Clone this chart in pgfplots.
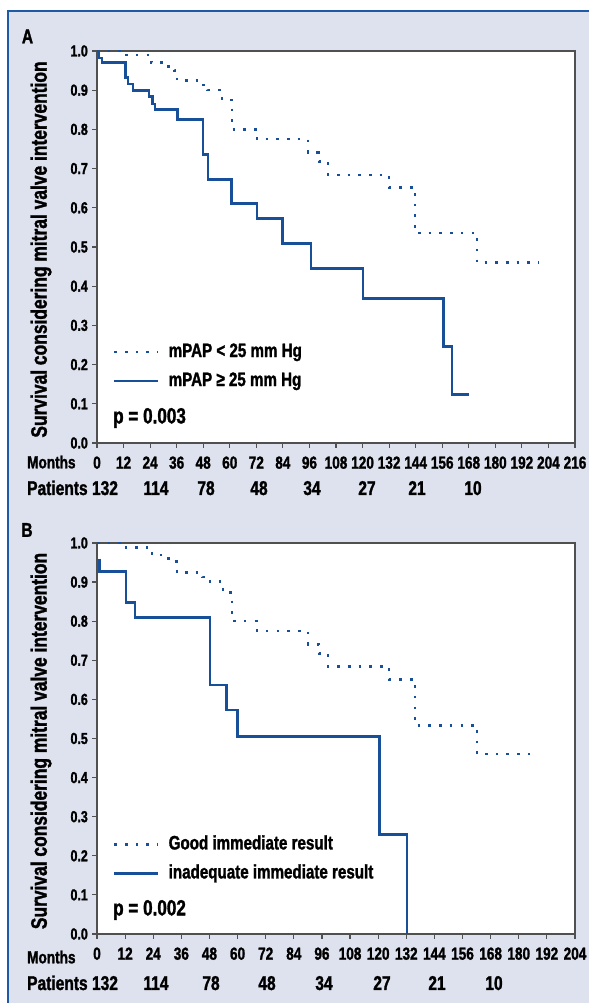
\documentclass[border=0pt]{standalone}
\usepackage{fontspec}
\setmainfont{Liberation Sans Bold}[FakeStretch=0.78, FakeBold=1.4]
\usepackage{pgfplots}
\pgfplotsset{compat=1.18}
\definecolor{bg}{RGB}{222,226,238}
\definecolor{frameblue}{RGB}{30,90,165}
\definecolor{curve}{RGB}{24,79,153}
\definecolor{axisgray}{RGB}{80,80,80}
\newcommand{\fs}[1]{\fontsize{#1}{#1}\selectfont}
\pgfplotsset{
  kmaxis/.style={
    scale only axis, width=478bp, clip=false,
    axis background/.style={fill=white},
    axis line style={axisgray, line width=1.3bp},
    tick style={axisgray, line width=1.2bp},
    tick align=outside, xtick pos=left, ytick pos=left,
    major tick length=5bp,
    ymin=0, ymax=1,
    ytick={0,0.1,0.2,0.3,0.4,0.5,0.6,0.7,0.8,0.9,1.0},
    /pgf/number format/assume math mode=true,
    yticklabel style={/pgf/number format/.cd, fixed, fixed zerofill, precision=1, assume math mode=true,
      /tikz/.cd, font=\fs{16}, anchor=east, inner sep=0pt, xshift=-4bp},
    xticklabel style={font=\fs{17.5}, anchor=north, inner sep=0pt, text height=12.5bp, text depth=0pt, yshift=-8bp},
    legend cell align=left,
    legend style={draw=none, fill=none, anchor=west, inner sep=0pt, outer sep=0pt,
      row sep=11bp, column sep=9bp, font=\fs{19.5},
      nodes={inner sep=0pt, text height=14bp, text depth=4bp}},
    legend image code/.code={\draw[##1, line width=2.7bp] (0bp,0bp) -- (44bp,0bp);},
  },
  dotcurve/.style={curve, line width=2.6bp, dash pattern=on 2.6bp off 8.1bp, const plot},
  solidcurve/.style={curve, line width=2.8bp, const plot},
}
\begin{document}
\begin{tikzpicture}[x=1bp,y=1bp]
\useasboundingbox (0,0) rectangle (589,1003);
\fill[white] (0,0) rectangle (589,1003);
\fill[bg] (8,0) rectangle (589,992);
\draw[frameblue, line width=1.5bp] (8,0) -- (8,992) -- (589,992);

% ---------- Panel A ----------
\begin{axis}[kmaxis, at={(97bp,560bp)}, anchor=south west, height=392bp,
  xmin=0, xmax=216, xtick={0,12,...,216},
  legend style={at={(axis description cs:0.0335,0.195)}}]
\addplot[dotcurve] coordinates {
(0,1.0) (12,0.99) (24.5,0.97) (31,0.96) (35,0.95) (36.2,0.924) (46.5,0.913)
(50,0.90) (56.5,0.879) (59,0.875) (61,0.80) (72.3,0.775) (95.3,0.741)
(100.3,0.718) (104.4,0.684) (132,0.652) (143.7,0.536) (171.7,0.46) (199.3,0.46)};
\addlegendentry{mPAP < 25 mm Hg}
\addplot[solidcurve] coordinates {
(0,1.0) (0.9,0.982) (2.3,0.970) (12.7,0.933) (14,0.916) (16.3,0.90) (23.5,0.883)
(24.9,0.865) (26.2,0.85) (36.2,0.826) (47.9,0.736) (50.2,0.673) (60.6,0.611)
(72.3,0.573) (84,0.509) (96.7,0.446) (120.2,0.369) (156.4,0.246) (160.4,0.124) (168.1,0.124)};
\addlegendentry{mPAP ≥ 25 mm Hg}
\end{axis}

% ---------- Panel B ----------
\begin{axis}[kmaxis, at={(97bp,69bp)}, anchor=south west, height=391bp,
  xmin=0, xmax=204, xtick={0,12,...,204},
  legend style={at={(axis description cs:0.0335,0.192)}}]
\addplot[dotcurve] coordinates {
(0,1.0) (12.3,0.988) (23.5,0.969) (30,0.961) (33,0.952) (34.1,0.924) (45,0.913)
(48.2,0.901) (53.8,0.880) (56,0.873) (57.6,0.801) (68.3,0.775) (90,0.741)
(94.8,0.717) (98.6,0.684) (124.6,0.651) (135.7,0.534) (162.2,0.46) (188.2,0.46)};
\addlegendentry{Good immediate result}
\addplot[solidcurve] coordinates {
(1,0.96) (1,0.928) (12.4,0.848) (16.2,0.81) (48.2,0.637) (55.4,0.573)
(59.9,0.506) (120.4,0.255) (132.3,0.0) (132.3,0.0)};
\addlegendentry{inadequate immediate result}
\end{axis}

% ---------- texts ----------
\node[font=\fs{20}, inner sep=0pt] at (27.5,966.5) {A};
\node[font=\fs{20}, inner sep=0pt] at (27,473) {B};
\node[font=\fs{22.4}, rotate=90, inner sep=0pt] at (41,753.5) {Survival considering mitral valve intervention};
\node[font=\fs{22.4}, rotate=90, inner sep=0pt] at (41,262) {Survival considering mitral valve intervention};
\node[font=\fs{22}, anchor=west, inner sep=0pt] at (113,585) {p = 0.003};
\node[font=\fs{22}, anchor=west, inner sep=0pt] at (113,93) {p = 0.002};

\node[font=\fs{17.5}, anchor=base west, inner sep=0pt] at (27,534.7) {Months};
\node[font=\fs{20}, anchor=base west, inner sep=0pt] at (27,508) {Patients};
\foreach \x/\n in {105/132,156/114,206/78,259/48,312/34,367/27,417/21,473/10}
  \node[font=\fs{20}, anchor=base, inner sep=0pt] at (\x,508) {\n};

\node[font=\fs{17.5}, anchor=base west, inner sep=0pt] at (27,39.7) {Months};
\node[font=\fs{20}, anchor=base west, inner sep=0pt] at (27,13) {Patients};
\foreach \x/\n in {105/132,156/114,211/78,267/48,324/34,382/27,437/21,494/10}
  \node[font=\fs{20}, anchor=base, inner sep=0pt] at (\x,13) {\n};
\end{tikzpicture}
\end{document}
